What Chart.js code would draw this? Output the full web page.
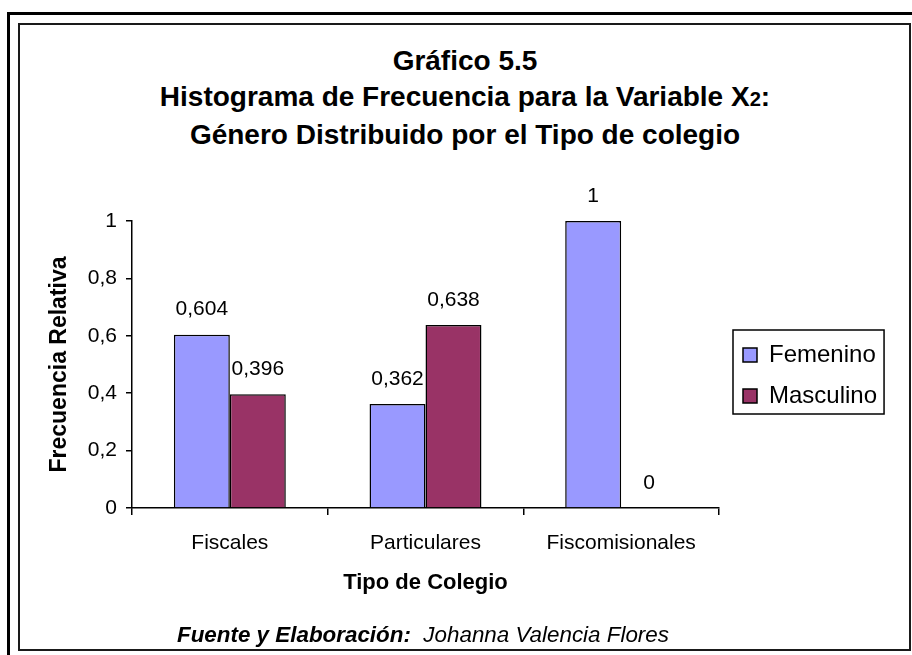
<!DOCTYPE html>
<html>
<head>
<meta charset="utf-8">
<script src="https://cdn.jsdelivr.net/npm/chart.js@4.4.1/dist/chart.umd.min.js"></script>
<style>
  html, body { margin: 0; padding: 0; background: #fff; }
  body { width: 912px; height: 655px; position: relative; overflow: hidden; font-family: 'Liberation Sans', Arial, sans-serif; color: #000; }
  .outer { position: absolute; left: 7px; top: 12px; width: 940px; height: 700px; border: 3px solid #000; }
  .inner { position: absolute; left: 18px; top: 23px; width: 889px; height: 624px; border: 2px solid #1a1a1a; }
  .title { position: absolute; left: 19px; width: 892px; top: 43px; text-align: center; font-weight: bold; font-size: 28px; line-height: 35.5px; }
  .title .sub { font-size: 0.72em; }
  .footer { position: absolute; left: 177px; top: 622px; font-size: 22.4px; line-height: 26px; font-style: italic; white-space: pre; }
  .chart-box { position: absolute; left: 0; top: 0; width: 912px; height: 655px; }
</style>
</head>
<body>
<div class="outer"></div>
<div class="inner"></div>
<div class="title">Gráfico 5.5<br>Histograma de Frecuencia para la Variable X<span class="sub">2</span>:<br>Género Distribuido por el Tipo de colegio</div>
<div class="chart-box"><canvas id="grafico"></canvas></div>
<div class="footer"><b>Fuente y Elaboración:</b>  Johanna Valencia Flores</div>
<script>
// datos del grafico
const categorias = ['Fiscales', 'Particulares', 'Fiscomisionales'];
const femenino = [0.604, 0.362, 1];
const masculino = [0.396, 0.638, 0];
const yTicks = [0, 0.2, 0.4, 0.6, 0.8, 1];

const coma = v => String(Math.round(v * 1000) / 1000).replace('.', ',');

Chart.defaults.font.family = "'Liberation Sans', Arial, sans-serif";
Chart.defaults.color = '#000';

// etiquetas de valor encima de cada barra
const etiquetas = {
  id: 'etiquetas',
  afterDatasetsDraw(chart) {
    const ctx = chart.ctx;
    ctx.save();
    ctx.font = "21px 'Liberation Sans', Arial, sans-serif";
    ctx.fillStyle = '#000';
    ctx.textAlign = 'center';
    ctx.textBaseline = 'middle';
    chart.data.datasets.forEach((ds, i) => {
      chart.getDatasetMeta(i).data.forEach((bar, j) => {
        ctx.fillText(coma(ds.data[j]), bar.x, bar.y - 25);
      });
    });
    ctx.restore();
  }
};

// leyenda a la derecha con marco
const marcoLeyenda = {
  id: 'marcoLeyenda',
  afterInit(chart) {
    const lg = chart.legend;
    const fit = lg.fit.bind(lg);
    lg.fit = () => { fit(); lg.width = 193; };
  },
  afterLayout(chart) {
    const lg = chart.legend;
    lg.left += 7; lg.right += 7;
    lg.top += 11; lg.bottom += 11;
  },
  afterDraw(chart) {
    const hb = chart.legend.legendHitBoxes;
    if (!hb || !hb.length) return;
    const l = Math.min(...hb.map(h => h.left)) - 10;
    const r = Math.max(...hb.map(h => h.left + h.width)) + 7;
    const t = Math.min(...hb.map(h => h.top)) - 13;
    const b = Math.max(...hb.map(h => h.top + h.height)) + 6;
    const ctx = chart.ctx;
    ctx.save();
    ctx.strokeStyle = '#000';
    ctx.lineWidth = 1.5;
    ctx.strokeRect(l, t, r - l, b - t);
    ctx.restore();
  }
};

new Chart(document.getElementById('grafico'), {
  type: 'bar',
  data: {
    labels: categorias,
    datasets: [
      { label: 'Femenino', data: femenino, backgroundColor: '#9999FF', borderColor: '#000', borderWidth: 1.5 },
      { label: 'Masculino', data: masculino, backgroundColor: '#993366', borderColor: '#000', borderWidth: 1.5 }
    ]
  },
  options: {
    responsive: true,
    maintainAspectRatio: false,
    animation: false,
    datasets: { bar: { barPercentage: 1, categoryPercentage: 0.572 } },
    layout: { padding: { top: 221, left: 0, right: 0, bottom: 0 } },
    plugins: {
      tooltip: { enabled: false },
      legend: {
        position: 'right',
        fullSize: false,
        labels: { font: { size: 24 }, boxWidth: 14, boxHeight: 14, padding: 17, color: '#000' }
      }
    },
    scales: {
      x: {
        afterFit: s => { s.height = 147; },
        grid: { drawOnChartArea: false, color: '#000', tickLength: 7, lineWidth: 1.5 },
        border: { color: '#000', width: 1.5 },
        ticks: { font: { size: 21 }, padding: 16, color: '#000' },
        title: { display: true, text: 'Tipo de Colegio', font: { size: 22, weight: 'bold' }, padding: { top: 0, bottom: 59 }, color: '#000' }
      },
      y: {
        min: 0,
        max: 1,
        afterFit: s => { s.width = 132; },
        afterBuildTicks: s => { s.ticks = yTicks.map(v => ({ value: v })); },
        grid: { drawOnChartArea: false, color: '#000', tickLength: 6, lineWidth: 1.5 },
        border: { color: '#000', width: 1.5 },
        ticks: { font: { size: 21 }, padding: 9, color: '#000', callback: v => coma(v) },
        title: { display: true, text: 'Frecuencia Relativa', font: { size: 23, weight: 'bold' }, padding: { top: 46, bottom: 0 }, color: '#000' }
      }
    }
  },
  plugins: [etiquetas, marcoLeyenda]
});
</script>
</body>
</html>
